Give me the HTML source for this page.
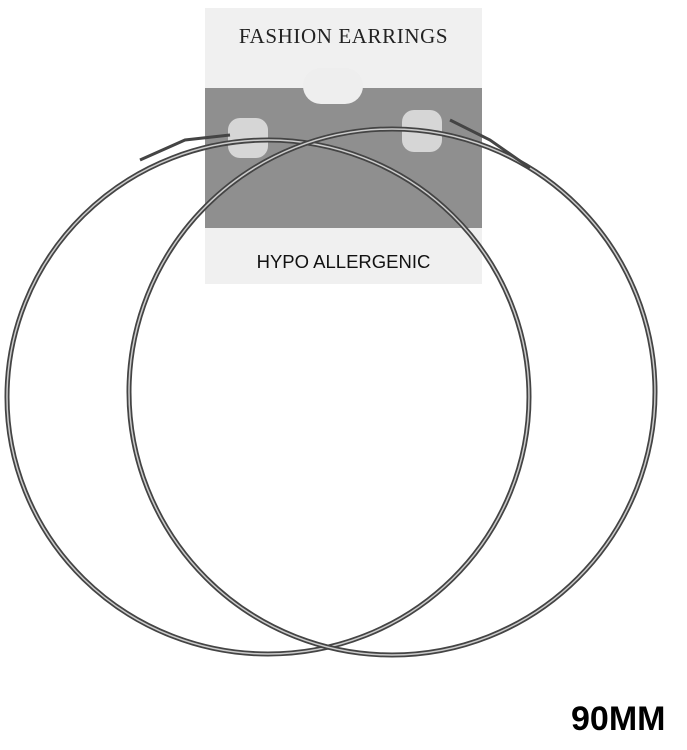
<!DOCTYPE html>
<html><head><style>
html,body{margin:0;padding:0;background:#fff;width:687px;height:750px;overflow:hidden;position:relative;font-family:"Liberation Sans",sans-serif}
.card{position:absolute;left:205px;top:8px;width:277px;height:276px;background:#f0f0f0}
.felt{position:absolute;left:205px;top:88px;width:277px;height:140px;background:#8f8f8f}
.notch{position:absolute;left:303px;top:68px;width:60px;height:36px;border-radius:30px;background:#eeeeee}
.t1{position:absolute;left:205px;width:277px;top:24px;text-align:center;font-family:"Liberation Serif",serif;font-size:21px;color:#222;letter-spacing:0.6px}
.t2{position:absolute;left:205px;width:277px;top:251px;text-align:center;font-size:18.5px;color:#111}
.mm{position:absolute;left:571px;top:700px;font-size:34px;font-weight:bold;color:#000}
</style></head><body>
<div class="card"></div>
<div class="felt"></div>
<div class="notch"></div>
<div class="t1">FASHION EARRINGS</div>
<div class="t2">HYPO ALLERGENIC</div>
<svg width="687" height="750" style="position:absolute;left:0;top:0">
<rect x="228" y="118" width="40" height="40" rx="12" fill="#d6d6d6"/>
<rect x="402" y="110" width="40" height="42" rx="12" fill="#d6d6d6"/>
<ellipse cx="268" cy="397" rx="261" ry="257" fill="none" stroke="#444" stroke-width="5"/>
<ellipse cx="268" cy="397" rx="261" ry="257" fill="none" stroke="#ccc" stroke-width="1.5"/>
<ellipse cx="392" cy="392" rx="263" ry="263" fill="none" stroke="#444" stroke-width="5"/>
<ellipse cx="392" cy="392" rx="263" ry="263" fill="none" stroke="#ccc" stroke-width="1.5"/>
<path d="M140 160 L185 140 L230 135" stroke="#444" stroke-width="3" fill="none"/>
<path d="M450 120 L490 140 L530 168" stroke="#444" stroke-width="3" fill="none"/>
</svg>
<div class="mm">90MM</div>
</body></html>
